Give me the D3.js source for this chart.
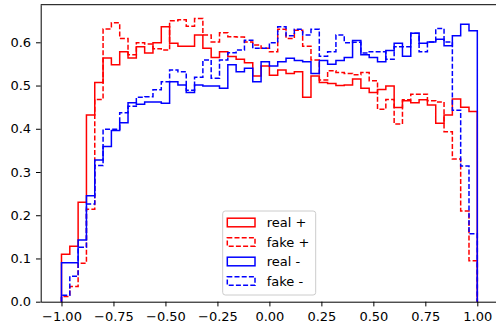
<!DOCTYPE html>
<html>
<head>
<meta charset="utf-8">
<script src="https://cdn.jsdelivr.net/npm/d3@7"></script>
<style>
  html, body { margin: 0; padding: 0; background: #fff; }
  svg { display: block; font-family: "DejaVu Sans", sans-serif; }
</style>
</head>
<body>
<svg width="496" height="327"></svg>
<script>
// histogram: 50 bins over [-1, 1]
var binLo = -1, binHi = 1, binCount = 50;

var realPlus = [0.110, 0.128, 0.230, 0.432, 0.507, 0.564, 0.548, 0.578, 0.564, 0.590,
  0.575, 0.599, 0.636, 0.598, 0.591, 0.591, 0.617, 0.586, 0.565, 0.578,
  0.567, 0.561, 0.553, 0.522, 0.545, 0.524, 0.536, 0.528, 0.532, 0.473,
  0.522, 0.507, 0.505, 0.500, 0.501, 0.515, 0.494, 0.484, 0.491, 0.499,
  0.449, 0.465, 0.460, 0.467, 0.455, 0.413, 0.432, 0.469, 0.450, 0.440];

var fakePlus = [0.012, 0.035, 0.089, 0.214, 0.468, 0.631, 0.645, 0.609, 0.571, 0.599,
  0.596, 0.585, 0.582, 0.650, 0.652, 0.637, 0.655, 0.617, 0.601, 0.622,
  0.613, 0.612, 0.601, 0.594, 0.586, 0.578, 0.630, 0.609, 0.628, 0.591,
  0.559, 0.513, 0.534, 0.530, 0.528, 0.525, 0.530, 0.511, 0.445, 0.468,
  0.411, 0.467, 0.480, 0.480, 0.465, 0.462, 0.393, 0.330, 0.210, 0.095];

var realMinus = [0.090, 0.090, 0.143, 0.245, 0.328, 0.359, 0.396, 0.414, 0.460, 0.457,
  0.462, 0.462, 0.459, 0.509, 0.501, 0.484, 0.501, 0.499, 0.499, 0.494,
  0.548, 0.532, 0.540, 0.509, 0.555, 0.545, 0.555, 0.563, 0.558, 0.555,
  0.528, 0.558, 0.549, 0.558, 0.565, 0.604, 0.571, 0.565, 0.555, 0.581,
  0.598, 0.568, 0.621, 0.598, 0.601, 0.607, 0.592, 0.615, 0.642, 0.627];

var fakeMinus = [0.015, 0.059, 0.126, 0.226, 0.315, 0.399, 0.399, 0.437, 0.452, 0.473,
  0.474, 0.490, 0.509, 0.536, 0.532, 0.489, 0.519, 0.559, 0.517, 0.559,
  0.576, 0.582, 0.605, 0.586, 0.586, 0.599, 0.636, 0.615, 0.630, 0.617,
  0.630, 0.568, 0.578, 0.617, 0.599, 0.600, 0.575, 0.578, 0.578, 0.561,
  0.590, 0.590, 0.621, 0.578, 0.601, 0.632, 0.601, 0.443, 0.314, 0.157];

var seriesNames = ['real +', 'fake +', 'real -', 'fake -'];
var seriesColors = ['red', 'red', 'blue', 'blue'];
var seriesDashed = [false, true, false, true];

var xTicks = [-1, -0.75, -0.5, -0.25, 0, 0.25, 0.5, 0.75, 1];
var yTicks = [0, 0.1, 0.2, 0.3, 0.4, 0.5, 0.6];

(function () {
  'use strict';
  var left = 40.7, right = 498.1, top = 4.7, bottom = 301.7;
  var fontSize = 13;
  var dash = '5,2.2';
  var lw = 1.5;

  var svg = d3.select('svg');
  var x = d3.scaleLinear().domain([-1.1, 1.1]).range([left, right]);
  var y = d3.scaleLinear().domain([0, 0.687]).range([bottom, top]);

  var binWidth = (binHi - binLo) / binCount;

  function stepPoints (values) {
    var pts = [[binLo, 0]];
    values.forEach(function (v, i) {
      pts.push([binLo + i * binWidth, v]);
      pts.push([binLo + (i + 1) * binWidth, v]);
    });
    pts.push([binHi, 0]);
    return pts;
  }

  var line = d3.line()
    .x(function (d) { return x(d[0]); })
    .y(function (d) { return y(d[1]); });

  var allSeries = [realPlus, fakePlus, realMinus, fakeMinus];

  var plot = svg.append('g');
  allSeries.forEach(function (vals, i) {
    plot.append('path')
      .attr('d', line(stepPoints(vals)))
      .attr('fill', 'none')
      .attr('stroke', seriesColors[i])
      .attr('stroke-width', lw)
      .attr('stroke-dasharray', seriesDashed[i] ? dash : null);
  });

  // axes
  var yAxis = svg.append('g')
    .attr('transform', 'translate(' + left + ',0)')
    .call(d3.axisLeft(y).tickValues(yTicks).tickFormat(d3.format('.1f'))
      .tickSize(4.7).tickSizeOuter(0).tickPadding(4.9));

  var xAxis = svg.append('g')
    .attr('transform', 'translate(0,' + bottom + ')')
    .call(d3.axisBottom(x).tickValues(xTicks).tickFormat(d3.format('.2f'))
      .tickSize(4.7).tickSizeOuter(0).tickPadding(4.9));

  [yAxis, xAxis].forEach(function (ax) {
    ax.selectAll('text').attr('font-size', fontSize).attr('font-family', '"DejaVu Sans", sans-serif').attr('fill', '#000');
    ax.selectAll('line').attr('stroke', '#000').attr('stroke-width', 1);
    ax.select('.domain').attr('stroke', '#000').attr('stroke-width', 1);
  });

  // top + right spines
  svg.append('path')
    .attr('d', 'M' + left + ',' + top + 'H' + right + 'V' + bottom)
    .attr('fill', 'none')
    .attr('stroke', '#000')
    .attr('stroke-width', 1);

  // legend
  var lg = svg.append('g').attr('transform', 'translate(222.7,211)');
  lg.append('rect')
    .attr('width', 93).attr('height', 84)
    .attr('rx', 2.6).attr('ry', 2.6)
    .attr('fill', 'white').attr('fill-opacity', 0.8)
    .attr('stroke', '#cccccc').attr('stroke-width', 1);

  var rowH = 19.5;
  seriesNames.forEach(function (name, i) {
    var cy = 11.5 + i * rowH;
    lg.append('rect')
      .attr('x', 4.6).attr('y', cy - 4.3)
      .attr('width', 27.7).attr('height', 8.6)
      .attr('fill', 'none')
      .attr('stroke', seriesColors[i])
      .attr('stroke-width', lw)
      .attr('stroke-dasharray', seriesDashed[i] ? dash : null);
    lg.append('text')
      .attr('x', 44).attr('y', cy)
      .attr('dy', '0.35em')
      .attr('font-size', fontSize)
      .text(name);
  });
})();
</script>
</body>
</html>
